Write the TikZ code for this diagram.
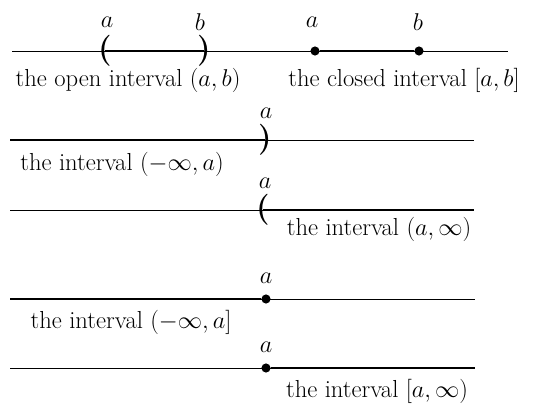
\documentclass[tikz,border=0pt]{standalone}
\begin{document}
\begin{tikzpicture}[x=0.025cm, y=-0.025cm,
  axis/.style={line width=0.6pt},
  seg/.style={line width=1.7pt},
  dot/.style={circle, fill, inner sep=0pt, minimum size=6.5pt},
  paren/.style={inner sep=0pt, font=\fontsize{22}{22}\selectfont\bfseries},
  lab/.style={inner sep=0pt, font=\fontsize{17}{20}\selectfont},
  caption/.style={inner sep=0pt, font=\fontsize{17.5}{20}\selectfont}
]
\useasboundingbox (0,0) rectangle (560,403);

% open and closed interval
\coordinate (l1) at (12,51);
\coordinate (r1) at (508,51);
\node[paren] (oa) at (105,51) {(};
\node[paren] (ob) at (204,51) {)};
\node[dot] (ca) at (315,51) {};
\node[dot] (cb) at (419,51) {};
\draw[axis] (l1) -- (r1);
\draw[seg] (oa.center) -- (ob.center);
\draw[seg] (ca) -- (cb);
\node[lab] (oal) at (107,22) {$a$};
\node[lab] (obl) at (200,22) {$b$};
\node[lab] (cal) at (312,22) {$a$};
\node[lab] (cbl) at (418,22) {$b$};
\node[caption] (open) at (128,80) {the open interval $(a,b)$};
\node[caption] (closed) at (404,80) {the closed interval $[a,b]$};

% (-inf,a)
\coordinate (l2) at (10,140);
\coordinate (r2) at (474,140);
\node[paren] (p2) at (265,140) {)};
\draw[axis] (l2) -- (r2);
\draw[seg] (l2) -- (p2.center);
\node[lab] (a2) at (266,113) {$a$};
\node[caption] (t2) at (122,164) {the interval $(-\infty,a)$};

% (a,inf)
\coordinate (l3) at (10,210);
\coordinate (r3) at (474,210);
\node[paren] (p3) at (263,210) {(};
\draw[axis] (l3) -- (r3);
\draw[seg] (p3.center) -- (r3);
\node[lab] (a3) at (265,183) {$a$};
\node[caption] (t3) at (379,229) {the interval $(a,\infty)$};

% (-inf,a]
\coordinate (l4) at (10,299);
\coordinate (r4) at (475,299);
\node[dot] (p4) at (266,299) {};
\draw[axis] (l4) -- (r4);
\draw[seg] (l4) -- (p4);
\node[lab] (a4) at (266,278) {$a$};
\node[caption] (t4) at (131,322) {the interval $(-\infty,a]$};

% [a,inf)
\coordinate (l5) at (10,368);
\coordinate (r5) at (475,368);
\node[dot] (p5) at (266,368) {};
\draw[axis] (l5) -- (r5);
\draw[seg] (p5) -- (r5);
\node[lab] (a5) at (266,347) {$a$};
\node[caption] (t5) at (377,391) {the interval $[a,\infty)$};
\end{tikzpicture}
\end{document}
